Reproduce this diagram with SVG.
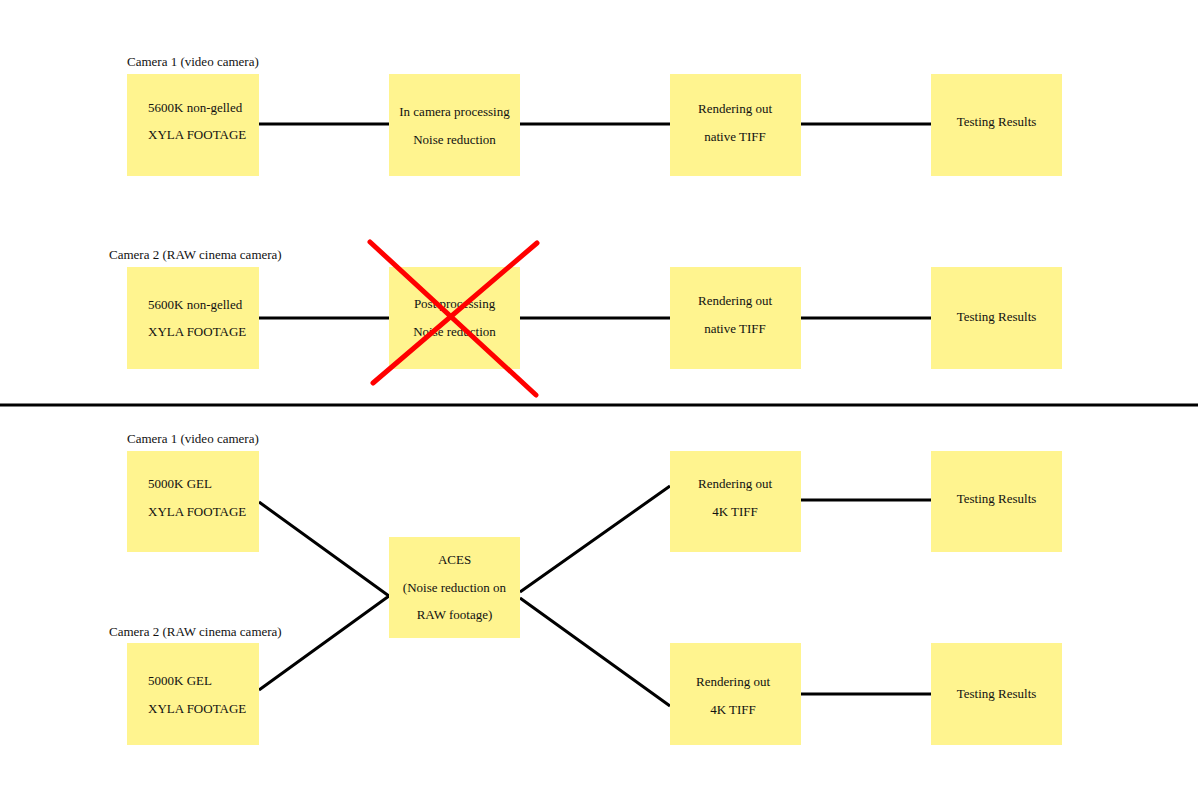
<svg xmlns="http://www.w3.org/2000/svg" width="1198" height="800" viewBox="0 0 1198 800">
<style>
.b{fill:#FFF48F}
text{font-family:"Liberation Serif","DejaVu Serif",serif;font-size:13px;fill:#111}
.c{text-anchor:middle}
.l{stroke:#000;stroke-width:3;fill:none}
</style>
<rect width="1198" height="800" fill="#fff"/>
<g id="connectors">
<path class="l" d="M259 124H389M520 124H670M801 124H931"/>
<path class="l" d="M259 318H389M520 318H670M801 318H931"/>
<path class="l" d="M0 405H1198"/>
<path class="l" d="M259 502L389 596L259 690M520 592L670 486M520 598L670 706M801 500H931M801 694H931"/>
</g>
<text x="127" y="66">Camera 1 (video camera)</text>
<text x="109" y="259">Camera 2 (RAW cinema camera)</text>
<text x="127" y="443">Camera 1 (video camera)</text>
<text x="109" y="636">Camera 2 (RAW cinema camera)</text>
<g id="n1"><rect class="b" x="127" y="74" width="132" height="102"/><text x="148" y="112">5600K non-gelled</text><text x="148" y="139">XYLA FOOTAGE</text></g>
<g id="n2"><rect class="b" x="389" y="74" width="131" height="102"/><text class="c" x="454.500" y="116">In camera processing</text><text class="c" x="454.500" y="144">Noise reduction</text></g>
<g id="n3"><rect class="b" x="670" y="74" width="131" height="102"/><text class="c" x="735" y="113">Rendering out</text><text class="c" x="735" y="141">native TIFF</text></g>
<g id="n4"><rect class="b" x="931" y="74" width="131" height="102"/><text class="c" x="996.500" y="126">Testing Results</text></g>
<g id="n5"><rect class="b" x="127" y="267" width="132" height="102"/><text x="148" y="309">5600K non-gelled</text><text x="148" y="336">XYLA FOOTAGE</text></g>
<g id="n6"><rect class="b" x="389" y="267" width="131" height="102"/><text class="c" x="454.500" y="308">Post processing</text><text class="c" x="454.500" y="336">Noise reduction</text></g>
<g id="n7"><rect class="b" x="670" y="267" width="131" height="102"/><text class="c" x="735" y="305">Rendering out</text><text class="c" x="735" y="333">native TIFF</text></g>
<g id="n8"><rect class="b" x="931" y="267" width="131" height="102"/><text class="c" x="996.500" y="321">Testing Results</text></g>
<g id="cross"><path d="M370 242L536 395M537 243L373 383" stroke="#F00" stroke-width="5" stroke-linecap="round"/></g>
<g id="n9"><rect class="b" x="127" y="451" width="132" height="101"/><text x="148" y="488">5000K GEL</text><text x="148" y="516">XYLA FOOTAGE</text></g>
<g id="n10"><rect class="b" x="389" y="537" width="131" height="101"/><text class="c" x="454.500" y="564">ACES</text><text class="c" x="454.500" y="592">(Noise reduction on</text><text class="c" x="454.500" y="619">RAW footage)</text></g>
<g id="n11"><rect class="b" x="670" y="451" width="131" height="101"/><text class="c" x="735" y="488">Rendering out</text><text class="c" x="735" y="516">4K TIFF</text></g>
<g id="n12"><rect class="b" x="931" y="451" width="131" height="101"/><text class="c" x="996.500" y="503">Testing Results</text></g>
<g id="n13"><rect class="b" x="127" y="643" width="132" height="102"/><text x="148" y="685">5000K GEL</text><text x="148" y="713">XYLA FOOTAGE</text></g>
<g id="n14"><rect class="b" x="670" y="643" width="131" height="102"/><text class="c" x="733" y="686">Rendering out</text><text class="c" x="733" y="714">4K TIFF</text></g>
<g id="n15"><rect class="b" x="931" y="643" width="131" height="102"/><text class="c" x="996.500" y="698">Testing Results</text></g>
</svg>
